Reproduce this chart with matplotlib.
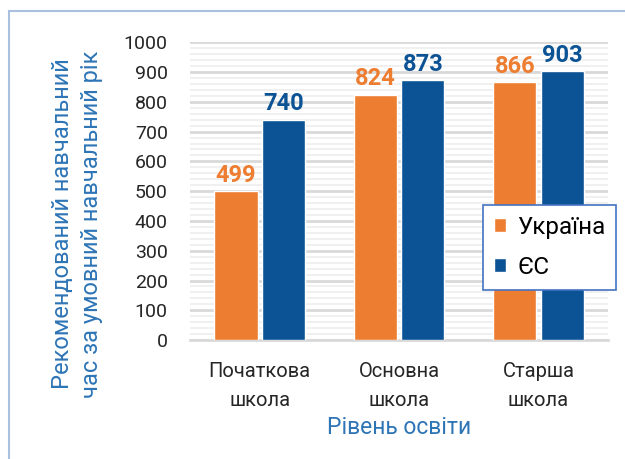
import numpy as np
import matplotlib.pyplot as plt
from matplotlib.patches import Rectangle
from matplotlib.ticker import MultipleLocator

# Recommended study hours per academic year
categories = ['Початкова\nшкола', 'Основна\nшкола', 'Старша\nшкола']
ukraine = [499, 824, 866]
eu = [740, 873, 903]
series_names = ['Україна', 'ЄС']

plt.rcParams['font.family'] = ['Roboto', 'DejaVu Sans']

orange = '#ED7D31'
blue = '#0B5394'
label_blue = '#2E75B6'

fig = plt.figure(figsize=(6.25, 4.59), dpi=100)
ax = fig.add_axes([0.304, 0.259, 0.669, 0.649])

x = np.arange(len(categories))
w = 0.31
b1 = ax.bar(x - w / 2 - 0.015, ukraine, w, color=orange, edgecolor='white', linewidth=1, label=series_names[0], zorder=3)
b2 = ax.bar(x + w / 2 + 0.015, eu, w, color=blue, edgecolor='white', linewidth=1, label=series_names[1], zorder=3)

for bars, col in [(b1, orange), (b2, blue)]:
    for r in bars:
        ax.text(r.get_x() + r.get_width() / 2, r.get_height() + 15, str(int(r.get_height())),
                ha='center', va='bottom', fontsize=17, fontweight='bold', color=col)

ax.set_xlim(-0.5, 2.5)
ax.set_ylim(0, 1000)
ax.yaxis.set_major_locator(MultipleLocator(100))
ax.yaxis.set_minor_locator(MultipleLocator(20))
ax.grid(axis='y', which='major', color='#D9D9D9', linewidth=2, zorder=0)
ax.grid(axis='y', which='minor', color='#EDEDED', linewidth=1.2, zorder=0)
ax.set_axisbelow(True)

for s in ['top', 'right', 'left']:
    ax.spines[s].set_visible(False)
ax.spines['bottom'].set_color('#D9D9D9')
ax.spines['bottom'].set_linewidth(2)

ax.set_xticks(x)
ax.set_xticklabels(categories, fontsize=14.5, color='#262626', linespacing=1.65)
ax.tick_params(axis='y', labelsize=14, labelcolor='#262626', length=0, pad=16)
ax.tick_params(axis='y', which='minor', length=0)
ax.tick_params(axis='x', length=0, pad=16)

ax.set_xlabel('Рівень освіти', fontsize=16.5, color=label_blue, labelpad=4)
fig.text(77 / 625, 1 - 224 / 459, 'Рекомендований навчальний\nчас за умовний навчальний рік',
         rotation=90, ha='center', va='center', multialignment='center',
         fontsize=17, color=label_blue, linespacing=1.3)

leg = fig.legend(handles=[b1, b2], loc='upper left', bbox_to_anchor=(483 / 625, 1 - 205 / 459),
                 borderaxespad=0, fontsize=17.5, frameon=True, fancybox=False, framealpha=1,
                 handlelength=0.5, handleheight=0.5,
                 borderpad=0.45, labelspacing=0.7, handletextpad=0.45)
leg.get_frame().set_edgecolor('#4472C4')
leg.get_frame().set_linewidth(1.2)

# outer chart border
fig.patches.append(Rectangle((0.015, -0.1), 1.2, 1.075, transform=fig.transFigure,
                             fill=False, edgecolor='#A9C0DE', linewidth=1.5))

fig.savefig('out.png', dpi=100)
